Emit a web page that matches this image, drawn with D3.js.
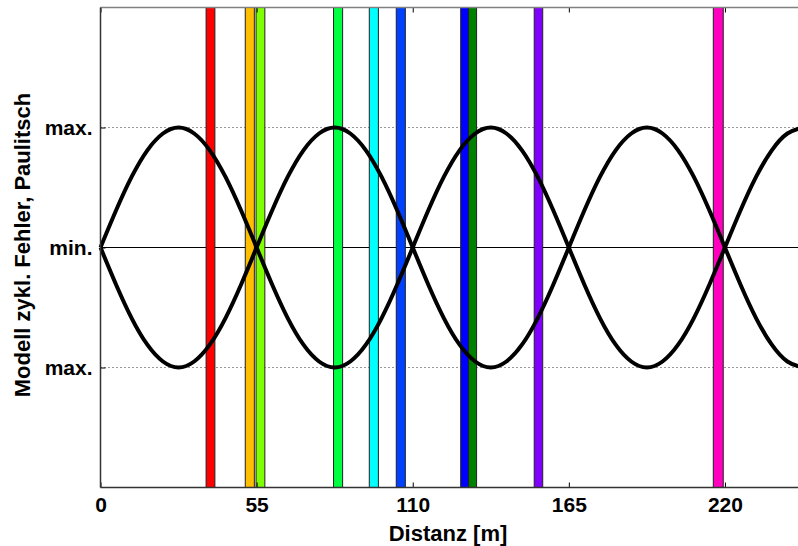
<!DOCTYPE html>
<html>
<head>
<meta charset="utf-8">
<script src="https://cdn.jsdelivr.net/npm/d3@7"></script>
<style>
  body { margin: 0; background: #fff; }
  svg { display: block; font-family: Arial, "Liberation Sans", sans-serif; font-weight: bold; }
</style>
</head>
<body>
<script>
// sample positions along distance (m)
var distSteps = [0, 5.5, 11, 16.5, 22, 27.5, 33, 38.5, 44, 49.5, 55, 60.5, 66, 71.5, 77, 82.5, 88, 93.5, 99, 104.5,
  110, 115.5, 121, 126.5, 132, 137.5, 143, 148.5, 154, 159.5, 165, 170.5, 176, 181.5, 187, 192.5, 198, 203.5, 209, 214.5,
  220, 225.5, 231, 236.5, 242, 247.5];
var upperCurve = [0, 0.31, 0.59, 0.81, 0.95, 1, 0.95, 0.81, 0.59, 0.31, 0, -0.31, -0.59, -0.81, -0.95, -1, -0.95, -0.81, -0.59, -0.31,
  0, 0.31, 0.59, 0.81, 0.95, 1, 0.95, 0.81, 0.59, 0.31, 0, -0.31, -0.59, -0.81, -0.95, -1, -0.95, -0.81, -0.59, -0.31,
  0, 0.31, 0.59, 0.81, 0.95, 1];
var lowerCurve = [0, -0.31, -0.59, -0.81, -0.95, -1, -0.95, -0.81, -0.59, -0.31, 0, 0.31, 0.59, 0.81, 0.95, 1, 0.95, 0.81, 0.59, 0.31,
  0, -0.31, -0.59, -0.81, -0.95, -1, -0.95, -0.81, -0.59, -0.31, 0, 0.31, 0.59, 0.81, 0.95, 1, 0.95, 0.81, 0.59, 0.31,
  0, -0.31, -0.59, -0.81, -0.95, -1];

// coloured marker bands (start / end in m)
var bandStart = [37.2, 51.0, 54.8, 82.1, 94.7, 104.2, 126.9, 129.7, 152.8, 215.9];
var bandEnd   = [40.3, 54.2, 57.9, 85.3, 97.9, 107.4, 129.7, 132.5, 155.8, 219.4];
var bandColor = ["#ff0000", "#ffbf00", "#80ff00", "#00ff40", "#00ffff", "#0040ff", "#0000ff", "#008000", "#8000ff", "#ff00bf"];

var xTicks = [0, 55, 110, 165, 220];
var yTicks = [-1, 0, 1];
var yTickLabels = ["max.", "min.", "max."];

var width = 798, height = 546;
var mLeft = 100.5, mTop = 7.5, mRight = 803, mBottom = 487.5;
var fontsize = "21px", titlefont = "22px";

var svg = d3.select("body").append("svg")
  .attr("width", width).attr("height", height);

var x = d3.scaleLinear().domain([0, 247.5]).range([mLeft, mRight]);
var y = d3.scaleLinear().domain([-2, 2]).range([mBottom, mTop]);

// dotted grid lines at max
svg.append("g").selectAll("line")
  .data(yTicks.filter(function(d){ return d != 0; }))
  .enter().append("line")
  .attr("x1", mLeft).attr("x2", mRight)
  .attr("y1", function(d){ return y(d); }).attr("y2", function(d){ return y(d); })
  .style("stroke", "#333").style("stroke-width", 1).style("stroke-dasharray", "1,3");

// zero line
svg.append("line")
  .attr("x1", mLeft).attr("x2", mRight)
  .attr("y1", y(0)).attr("y2", y(0))
  .style("stroke", "#000").style("stroke-width", 1);

// bands
svg.append("g").selectAll("rect")
  .data(bandStart)
  .enter().append("rect")
  .attr("x", function(d){ return x(d); })
  .attr("y", mTop)
  .attr("width", function(d, i){ return x(bandEnd[i]) - x(d); })
  .attr("height", mBottom - mTop)
  .style("fill", function(d, i){ return bandColor[i]; })
  .style("stroke", "#222").style("stroke-width", 1);

// curves
var line = d3.line()
  .x(function(d, i){ return x(distSteps[i]); })
  .y(function(d){ return y(d); })
  .curve(d3.curveNatural);

[upperCurve, lowerCurve].forEach(function(c){
  svg.append("path").datum(c)
    .attr("d", line)
    .style("fill", "none").style("stroke", "#000").style("stroke-width", 4);
});

// axes
var xAxis = d3.axisBottom(x).tickValues(xTicks).tickSize(-5).tickPadding(10);
var gx = svg.append("g").attr("transform", "translate(0," + mBottom + ")").call(xAxis);
gx.select(".domain").remove();
gx.selectAll("text").style("font-size", fontsize).style("font-weight", "bold").style("fill", "#000");

var xTop = d3.axisTop(x).tickValues(xTicks).tickSize(-5).tickFormat("");
var gxt = svg.append("g").attr("transform", "translate(0," + mTop + ")").call(xTop);
gxt.select(".domain").remove();

var yAxis = d3.axisLeft(y).tickValues(yTicks).tickSize(-5).tickPadding(8)
  .tickFormat(function(d, i){ return yTickLabels[i]; });
var gy = svg.append("g").attr("transform", "translate(" + mLeft + ",0)").call(yAxis);
gy.select(".domain").remove();
gy.selectAll("text").style("font-size", fontsize).style("font-weight", "bold").style("fill", "#000");

// frame
svg.append("line").attr("x1", mLeft).attr("x2", mRight).attr("y1", mTop).attr("y2", mTop)
  .style("stroke", "#808080").style("stroke-width", 1.5);
svg.append("line").attr("x1", mLeft).attr("x2", mRight).attr("y1", mBottom).attr("y2", mBottom)
  .style("stroke", "#333").style("stroke-width", 1.5);
svg.append("line").attr("x1", mLeft).attr("x2", mLeft).attr("y1", mTop).attr("y2", mBottom)
  .style("stroke", "#333").style("stroke-width", 1.5);

// titles
svg.append("text")
  .attr("x", 448).attr("y", 541)
  .attr("text-anchor", "middle")
  .style("font-size", titlefont)
  .text("Distanz [m]");

svg.append("text")
  .attr("transform", "translate(30,245) rotate(-90)")
  .attr("text-anchor", "middle")
  .style("font-size", titlefont)
  .text("Modell zykl. Fehler, Paulitsch");
</script>
</body>
</html>
